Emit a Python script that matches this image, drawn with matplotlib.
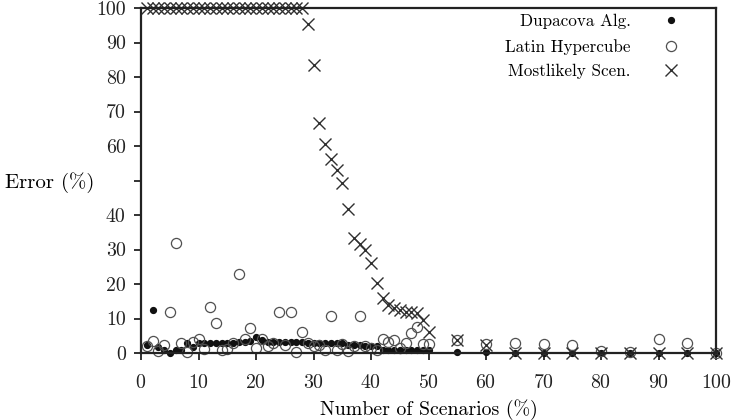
import numpy as np
import matplotlib.pyplot as plt

plt.rcParams['font.family'] = 'serif'
plt.rcParams['font.serif'] = ['cmr10', 'DejaVu Serif']
plt.rcParams['mathtext.fontset'] = 'cm'
plt.rcParams['axes.unicode_minus'] = False
plt.rcParams['axes.formatter.use_mathtext'] = True

# scenario percentages: 1..50 step 1, then 55..100 step 5
scenarios = list(range(1, 51)) + list(range(55, 101, 5))

dupacova = [2.2, 12.5, 1.7, 1.0, 0.1, 0.9, 1.0, 2.8, 1.6, 3.0,
            3.0, 3.0, 3.0, 3.0, 3.0, 3.0, 3.1, 3.3, 3.4, 4.5,
            3.8, 3.3, 3.2, 3.1, 3.1, 3.1, 3.1, 3.1, 3.0, 3.0,
            3.0, 3.0, 3.0, 3.0, 3.0, 2.4, 2.2, 2.2, 2.1, 2.0,
            2.0, 0.9, 0.9, 0.9, 0.9, 0.9, 0.9, 0.9, 0.9, 0.9,
            0.2, 0.2, 0.1, 0.1, 0.1, 0.1, 0.1, 0.1, 0.1, 0.1]

latin = [2.0, 3.6, 0.6, 2.3, 11.8, 31.8, 3.0, 0.4, 3.3, 4.2,
         1.1, 13.4, 8.8, 0.9, 1.1, 3.0, 22.8, 4.2, 7.3, 1.4,
         4.2, 2.0, 2.8, 12.0, 2.3, 12.0, 0.4, 6.0, 2.8, 2.0,
         2.3, 1.0, 10.7, 0.9, 2.5, 0.5, 2.0, 10.7, 2.0, 1.5,
         0.8, 4.2, 3.3, 3.8, 1.5, 3.0, 5.7, 7.6, 2.5, 2.5,
         3.8, 2.5, 3.0, 2.5, 2.3, 0.5, 0.3, 4.0, 3.0, 0.0]

mostlikely = [100] * 28 + [95.5, 83.5, 66.8, 60.5, 56.1, 53.0, 49.2, 41.6, 33.2, 31.6,
                           29.9, 26.0, 20.3, 16.0, 14.0, 13.0, 12.5, 12.0, 12.0, 11.5,
                           9.6, 6.2,
                           3.8, 2.3, 0.0, 0.0, 0.0, 0.0, 0.0, 0.0, 0.0, 0.0]

xticks = np.arange(0, 101, 10)
yticks = np.arange(0, 101, 10)
# the 50 label is covered by the axis title in the original
ytick_labels = ['' if v == 50 else str(v) for v in yticks]

fig = plt.figure(figsize=(7.34, 4.2), dpi=100)
ax = fig.add_axes([141 / 734, 1 - 353 / 420, 575 / 734, 345 / 420])

ax.plot(scenarios, dupacova, ls='none', marker='o', ms=4.2, mfc='#111111',
        mec='#111111', label='Dupacova Alg.', clip_on=False)
ax.plot(scenarios, latin, ls='none', marker='o', ms=7.3, mfc='none',
        mec='#505050', mew=0.9, label='Latin Hypercube', clip_on=False)
ax.plot(scenarios, mostlikely, ls='none', marker='x', ms=9, mec='#303030',
        mew=1.0, label='Mostlikely Scen.', clip_on=False)

ax.set_xlim(0, 100)
ax.set_ylim(0, 100)
ax.set_xticks(xticks)
ax.set_yticks(yticks)
ax.set_yticklabels(ytick_labels)
ax.tick_params(direction='out', length=5, width=1.3, labelsize=14.3,
               colors='#222222')
ax.tick_params(axis='x', pad=10)
ax.tick_params(axis='y', pad=6)
for s in ax.spines.values():
    s.set_linewidth(1.6)
    s.set_color('#222222')

ax.set_xlabel('Number of Scenarios (%)', fontsize=14.3, labelpad=5)
ax.set_ylabel('Error (%)', fontsize=15, rotation=0, ha='left', va='center')
ax.yaxis.set_label_coords((5 - 141) / 575, (353 - 183) / 345)

leg = ax.legend(loc='upper right', frameon=False, markerfirst=False,
                fontsize=12.3, handlelength=1.0, handletextpad=1.9,
                labelspacing=0.55, borderpad=0, borderaxespad=0,
                bbox_to_anchor=((680 - 141) / 575, (353 - 14) / 345))

fig.savefig('out.png', dpi=100)
